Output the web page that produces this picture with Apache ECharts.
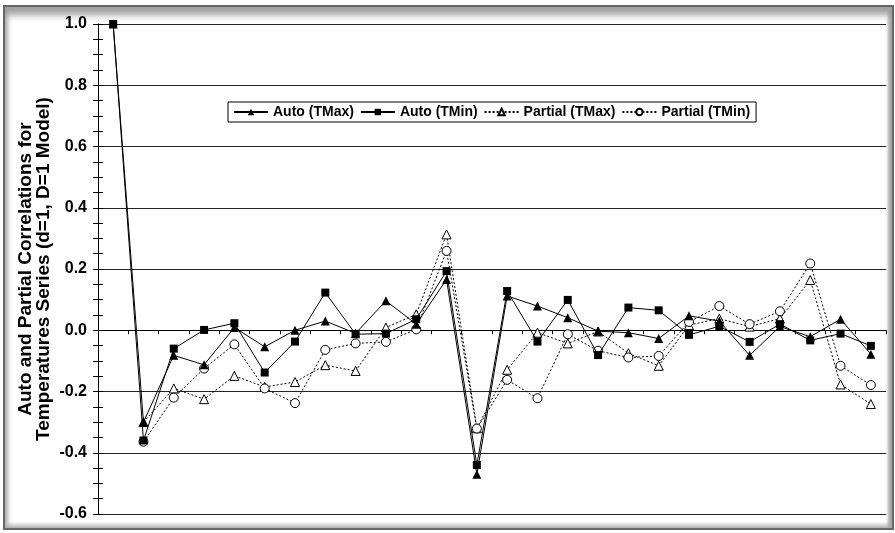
<!DOCTYPE html>
<html>
<head>
<meta charset="utf-8">
<script src="https://cdn.jsdelivr.net/npm/echarts@6/dist/echarts.min.js"></script>
<style>
  html, body { margin: 0; padding: 0; background: #fff; }
  #frame {
    position: absolute; left: 3px; top: 5px; width: 887px; height: 521px;
    border: 2px solid #666;
    box-shadow: inset 0 12px 7px -4px #a0a0a0, inset 5px 0 4px -2px #b0b0b0, inset -5px 0 3px -1px #a8a8a8, inset 0 -5px 4px -2px #b0b0b0;
  }
  #chart { position: absolute; left: 0; top: 0; width: 895px; height: 533px; }
</style>
</head>
<body>
<div id="frame"></div>
<div id="chart"></div>
<script>
const lags = ['0','1','2','3','4','5','6','7','8','9','10','11','12','13','14','15','16','17','18','19','20','21','22','23','24','25'];
const autoTMax = [1.0, -0.30, -0.082, -0.113, 0.009, -0.054, 0.0, 0.030, -0.01, 0.096, 0.02, 0.166, -0.47, 0.112, 0.079, 0.041, -0.003, -0.008, -0.027, 0.047, 0.03, -0.082, 0.012, -0.021, 0.036, -0.078];
const autoTMin = [1.0, -0.36, -0.060, 0.001, 0.023, -0.138, -0.037, 0.123, -0.013, -0.011, 0.036, 0.193, -0.44, 0.128, -0.037, 0.099, -0.081, 0.074, 0.065, -0.015, 0.013, -0.038, 0.02, -0.033, -0.011, -0.051];
const partialTMax = [null, -0.30, -0.190, -0.225, -0.149, -0.185, -0.169, -0.114, -0.133, 0.009, 0.052, 0.313, -0.32, -0.129, -0.008, -0.043, -0.004, -0.075, -0.116, 0.017, 0.038, 0.012, 0.038, 0.164, -0.177, -0.241];
const partialTMin = [null, -0.364, -0.220, -0.125, -0.046, -0.190, -0.238, -0.064, -0.043, -0.038, 0.003, 0.259, -0.321, -0.162, -0.222, -0.013, -0.067, -0.089, -0.084, 0.027, 0.079, 0.02, 0.062, 0.218, -0.116, -0.179];
const yTicks = { min: -0.6, max: 1.0, step: 0.2 };

const chart = echarts.init(document.getElementById('chart'), null, { renderer: 'canvas' });
const font = 'Liberation Sans, Arial, sans-serif';
const solid = { color: '#000', width: 1, type: 'solid' };
const dotted = { color: '#000', width: 1, type: [2, 2] };

chart.setOption({
  backgroundColor: 'transparent',
  animation: false,
  grid: { left: 98, right: 9, top: 24, bottom: 19, containLabel: false, outerBoundsMode: 'none' },
  legend: {
    left: 228, top: 102,
    orient: 'horizontal',
    backgroundColor: '#fff',
    borderColor: '#000', borderWidth: 1,
    padding: [3, 6, 3, 5],
    itemGap: 6,
    itemWidth: 34, itemHeight: 8,
    textStyle: { fontFamily: font, fontWeight: 'bold', fontSize: 14, color: '#000' },
    data: ['Auto (TMax)', 'Auto (TMin)', 'Partial (TMax)', 'Partial (TMin)']
  },
  xAxis: {
    type: 'category',
    data: lags,
    boundaryGap: true,
    axisLine: { onZero: true, lineStyle: { color: '#000', width: 1 } },
    axisTick: { show: true, interval: 0, length: 4, lineStyle: { color: '#000' } },
    axisLabel: { show: false },
    splitLine: { show: false }
  },
  yAxis: [{
    type: 'value',
    min: yTicks.min, max: yTicks.max, interval: yTicks.step,
    name: 'Auto and Partial Correlations for\nTemperatures Series (d=1, D=1 Model)',
    nameLocation: 'middle',
    nameGap: 45,
    nameRotate: 90,
    nameMoveOverlap: false,
    nameTextStyle: { fontFamily: font, fontWeight: 'bold', fontSize: 19, color: '#000', lineHeight: 18 },
    axisLine: { show: true, lineStyle: { color: '#000', width: 1 } },
    axisTick: { show: true, length: 5, lineStyle: { color: '#000' } },
    minorTick: { show: true, splitNumber: 4, length: 5, lineStyle: { color: '#000' } },
    axisLabel: { margin: 11, fontFamily: font, fontWeight: 'bold', fontSize: 16, color: '#000', formatter: v => v.toFixed(1) },
    splitLine: { show: true, lineStyle: { color: '#222', width: 1 } }
  }, {
    type: 'value',
    position: 'left',
    min: yTicks.min, max: yTicks.max, interval: yTicks.step,
    axisLine: { show: false },
    axisTick: { show: true, inside: true, length: 5, lineStyle: { color: '#000' } },
    minorTick: { show: true, splitNumber: 4, length: 5, lineStyle: { color: '#000' } },
    axisLabel: { show: false },
    splitLine: { show: false }
  }],
  series: [
    {
      name: 'Partial (TMax)', type: 'line', data: partialTMax, yAxisIndex: 0,
      symbol: 'triangle', symbolSize: 9, showAllSymbol: true,
      lineStyle: dotted,
      itemStyle: { color: '#fff', borderColor: '#000', borderWidth: 1 },
      z: 2
    },
    {
      name: 'Partial (TMin)', type: 'line', data: partialTMin, yAxisIndex: 0,
      symbol: 'circle', symbolSize: 9, showAllSymbol: true,
      lineStyle: dotted,
      itemStyle: { color: '#fff', borderColor: '#000', borderWidth: 1 },
      z: 2
    },
    {
      name: 'Auto (TMax)', type: 'line', data: autoTMax, yAxisIndex: 0,
      symbol: 'triangle', symbolSize: 9, showAllSymbol: true,
      lineStyle: solid,
      itemStyle: { color: '#000' },
      z: 3
    },
    {
      name: 'Auto (TMin)', type: 'line', data: autoTMin, yAxisIndex: 0,
      symbol: 'rect', symbolSize: 8, showAllSymbol: true,
      lineStyle: solid,
      itemStyle: { color: '#000' },
      z: 3
    }
  ]
});
</script>
</body>
</html>
